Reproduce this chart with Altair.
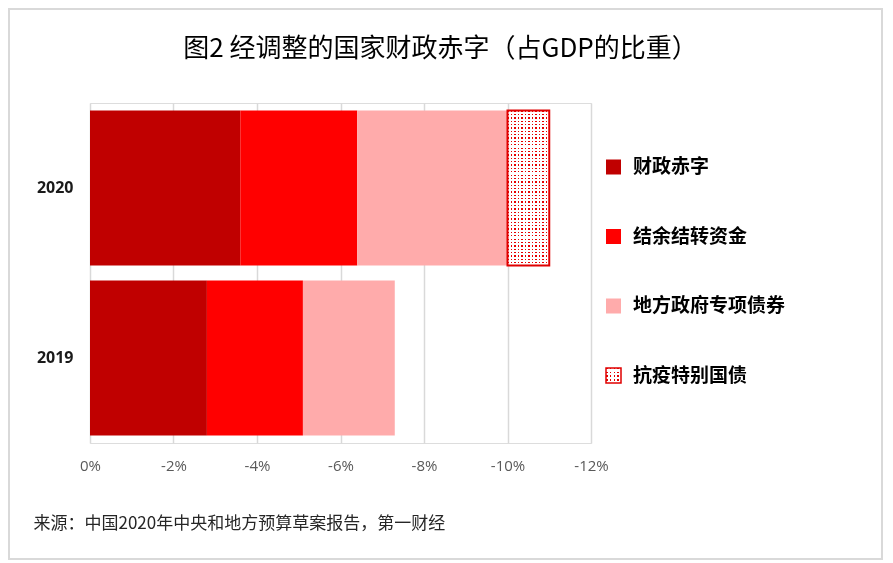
import altair as alt
import pandas as pd

# ---------------- data ----------------
years = ["2020", "2019"]
categories = ["财政赤字", "结余结转资金", "地方政府专项债券", "抗疫特别国债"]
values_2020 = [-3.6, -2.8, -3.6, -1.0]
values_2019 = [-2.8, -2.3, -2.2]
x_ticks = [0, -2, -4, -6, -8, -10, -12]
solid_colors = ["#c00000", "#ff0000", "#ffabab"]
title_text = "图2 经调整的国家财政赤字（占GDP的比重）"
source_text = "来源：中国2020年中央和地方预算草案报告，第一财经"

rows = []
for yr, vals in zip(years, [values_2020, values_2019]):
    for i, v in enumerate(vals):
        rows.append({"year": yr, "name": categories[i], "order": i, "value": v})
df = pd.DataFrame(rows)
leg_df = pd.DataFrame({"name": categories, "order": list(range(len(categories)))})

CJK = "Noto Sans CJK SC"
LAT = "Open Sans"
PAT = "#e60000"
hatched = categories[3]


def stripes(n, horizontal, color, frac=0.38):
    stops = []
    for i in range(n):
        a = round(i / n, 5)
        b = round((i + frac) / n, 5)
        c = round((i + 1) / n, 5)
        stops += [
            {"offset": a, "color": color},
            {"offset": b, "color": color},
            {"offset": b, "color": "#ffffff"},
            {"offset": c, "color": "#ffffff"},
        ]
    return {
        "gradient": "linear",
        "stops": stops,
        "x1": 0, "y1": 0,
        "x2": 1 if horizontal else 0,
        "y2": 0 if horizontal else 1,
    }


color_scale = alt.Scale(domain=categories[:3], range=solid_colors)
y_band = alt.Scale(domain=years, paddingInner=0.088, paddingOuter=0.044)
y_leg = alt.Scale(domain=categories, range=[64, 272.5], padding=0)
x_scale = alt.Scale(domain=[0, -12], nice=False, zero=False)

base = alt.Chart(df).transform_stack(
    stack="value", groupby=["year"], as_=["v0", "v1"],
    sort=[alt.SortField("order", order="ascending")],
)

bars = base.mark_rect().encode(
    x=alt.X("v0:Q", scale=x_scale,
            axis=alt.Axis(values=x_ticks, labelExpr="datum.value + '%'",
                          grid=True, gridColor="#d9d9d9", gridWidth=1.5,
                          domain=False, ticks=False, labelPadding=15, labelFlush=False,
                          labelFont=LAT, labelFontSize=15, labelColor="#595959",
                          title=source_text, titleX=-57, titleY=80,
                          titleAlign="left", titleBaseline="middle",
                          titleFont=CJK, titleFontSize=17, titleFontWeight="normal",
                          titleColor="#262626")),
    x2="v1:Q",
    y=alt.Y("year:N", scale=y_band,
            axis=alt.Axis(domain=False, ticks=False, grid=False, labelPadding=17,
                          labelFont=LAT, labelFontSize=16, labelFontWeight="bold",
                          labelColor="#1a1a1a",
                          title=title_text, titleAngle=0, titleX=350, titleY=-55,
                          titleAlign="center", titleBaseline="middle",
                          titleFont=CJK, titleFontSize=26, titleFontWeight="normal",
                          titleColor="#000000")),
    color=alt.Color("name:N", scale=color_scale, legend=None),
).transform_filter(alt.datum.name != hatched)

pat_enc = dict(
    x=alt.X("v0:Q", scale=x_scale),
    x2="v1:Q",
    y=alt.Y("year:N", scale=y_band, axis=None),
)
pat1 = base.mark_rect(fill=stripes(12, True, PAT)).encode(**pat_enc).transform_filter(alt.datum.name == hatched)
pat2 = base.mark_rect(fill=stripes(46, False, PAT), blend="lighten").encode(**pat_enc).transform_filter(alt.datum.name == hatched)
pat_border = base.mark_rect(fill="transparent", stroke="#e00000", strokeWidth=2).encode(**pat_enc).transform_filter(alt.datum.name == hatched)

# ---------------- legend ----------------
leg_y = alt.Y("name:N", scale=y_leg, axis=None)
leg_sq = alt.Chart(leg_df).mark_square(size=225, opacity=1).encode(
    x=alt.value(523.5), y=leg_y,
    color=alt.Color("name:N", scale=color_scale, legend=None),
).transform_filter(alt.datum.name != hatched)
leg_p1 = alt.Chart(leg_df).mark_square(size=225, opacity=1, fill=stripes(4, True, PAT, 0.4)).encode(
    x=alt.value(523.5), y=leg_y).transform_filter(alt.datum.name == hatched)
leg_p2 = alt.Chart(leg_df).mark_square(size=225, opacity=1, fill=stripes(4, False, PAT, 0.4), blend="lighten").encode(
    x=alt.value(523.5), y=leg_y).transform_filter(alt.datum.name == hatched)
leg_b = alt.Chart(leg_df).mark_square(size=225, filled=False, stroke="#e00000", strokeWidth=1.5, opacity=1).encode(
    x=alt.value(523.5), y=leg_y).transform_filter(alt.datum.name == hatched)
leg_txt = alt.Chart(leg_df).mark_text(align="left", baseline="middle", font=CJK,
                                      fontSize=19, fontWeight="bold", color="#000000").encode(
    x=alt.value(543), y=leg_y, text="name:N")

frame = alt.Chart(pd.DataFrame({"f": [0]})).mark_rect(
    fill="transparent", stroke="#d9d9d9", strokeWidth=2
).encode(x=alt.value(-81), x2=alt.value(792), y=alt.value(-94), y2=alt.value(456))

chart = alt.layer(
    frame, bars, pat1, pat2, pat_border, leg_sq, leg_p1, leg_p2, leg_b, leg_txt
).resolve_scale(y="independent").properties(
    width=501, height=340,
    autosize=alt.AutoSizeParams(type="none"),
    padding={"left": 90, "top": 103, "right": 302, "bottom": 120},
).configure_view(stroke=None).configure(background="#ffffff")

chart.save("out.html", embed_options={"renderer": "svg", "actions": False})
